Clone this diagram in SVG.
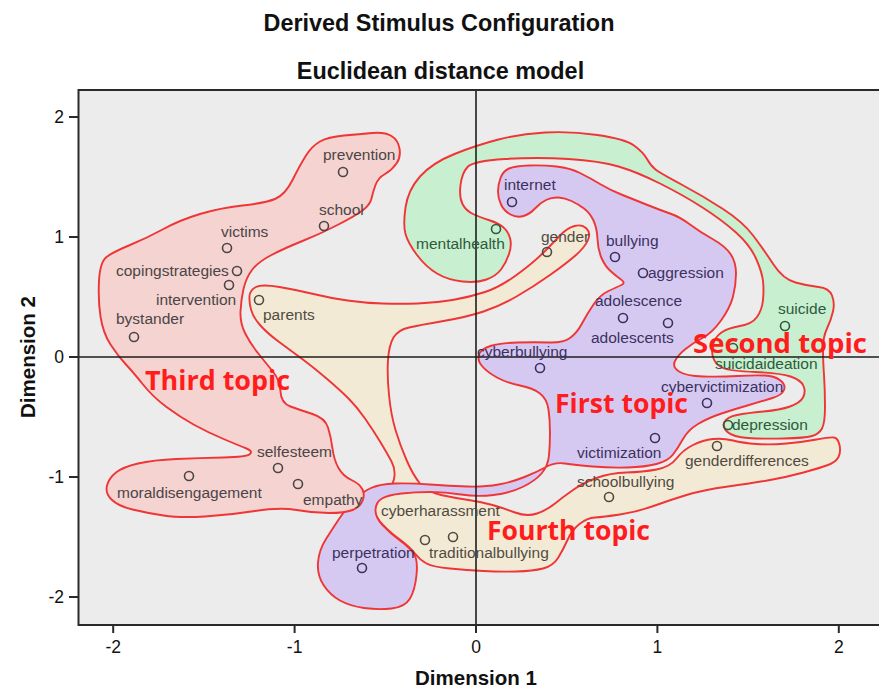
<svg xmlns="http://www.w3.org/2000/svg" width="879" height="689" viewBox="0 0 879 689">
<style>
.title{font-family:"Liberation Sans",Arial,sans-serif;font-weight:bold;font-size:23.4px;fill:#111;text-anchor:middle}
.axt{font-family:"Liberation Sans",Arial,sans-serif;font-weight:bold;font-size:20.5px;fill:#111;text-anchor:middle}
.tick{font-family:"Liberation Sans",Arial,sans-serif;font-size:17.5px;fill:#111}
.frame{fill:none;stroke:#2a2a2a;stroke-width:2}
.zero{stroke:#1e1e1e;stroke-width:1.6}
.tk{stroke:#2a2a2a;stroke-width:2}
.reg{stroke:#ef3535;stroke-width:1.9;stroke-linejoin:round}
.node text{font-family:"Liberation Sans",Arial,sans-serif;font-size:15.5px;fill:#4b4545}
.node circle{fill:none;stroke:#4b4545;stroke-width:1.6}
.pu text{fill:#3b3160}.pu circle{stroke:#3b3160}
.gr text{fill:#2f5a3c}.gr circle{stroke:#2f5a3c}
.be text{fill:#514a40}.be circle{stroke:#514a40}
.topic{font-family:"Open Sans","Liberation Sans",sans-serif;font-weight:bold;font-size:26px;fill:#ff1c1c}
</style>
<rect width="879" height="689" fill="#ffffff"/>
<text class="title" x="439" y="31">Derived Stimulus Configuration</text>
<text class="title" x="440.5" y="79">Euclidean distance model</text>
<rect x="78.5" y="90" width="820" height="535" fill="#ececec"/>

<g id="regions">
<path id="region-fourth" class="reg" fill="#f3ead6" d="M249.5 296 Q250 290 256 287 Q262 284 279.5 287 Q297 290 313.5 294 Q330 298 347.5 300.5 Q365 303 382.5 303.5 Q400 304 417.5 303.5 Q435 303 452.5 300 Q470 297 485 292 Q500 287 516.5 275 Q533 263 543 253 Q553 243 560 235.5 Q567 228 574.5 226 Q582 224 586.5 228.5 Q591 233 588 240 Q585 247 576 255 Q567 263 550 275 Q533 287 516.5 296.5 Q500 306 483.5 311.5 Q467 317 443.5 321 Q420 325 409 327.5 Q398 330 393.5 337.5 Q389 345 388 360 Q387 375 389 395 Q391 415 395.5 430 Q400 445 406.5 460 Q413 475 420 483.5 Q427 492 441 495 Q455 498 468.5 500 Q482 502 492.5 505 Q503 508 515 512.5 Q527 517 537 513.5 Q547 510 555 503.5 Q563 497 573 490 Q583 483 596.5 478 Q610 473 626.5 472.5 Q643 472 656.5 469.5 Q670 467 676.5 458.5 Q683 450 693 445 Q703 440 713 439 Q723 438 733 440.5 Q743 443 756.5 444 Q770 445 786.5 443.5 Q803 442 816.5 439.5 Q830 437 834 437.5 Q838 438 839.5 445 Q841 452 838.5 457 Q836 462 828 465 Q820 468 803.5 472.5 Q787 477 770 480 Q753 483 728 486.5 Q703 490 686.5 495 Q670 500 653.5 506 Q637 512 620 514.5 Q603 517 595 517.5 Q587 518 579.5 524 Q572 530 567.5 540 Q563 550 558 558 Q553 566 543 568.5 Q533 571 516.5 571.5 Q500 572 483.5 571 Q467 570 450 568.5 Q433 567 426.5 563.5 Q420 560 415 553.5 Q410 547 398.5 538.5 Q387 530 380 521.5 Q373 513 375 505 Q377 497 384.5 492.5 Q392 488 394 479 Q396 470 391.5 461.5 Q387 453 380 441.5 Q373 430 365 418.5 Q357 407 348.5 398.5 Q340 390 326.5 378.5 Q313 367 301.5 358.5 Q290 350 278.5 341.5 Q267 333 260 325 Q253 317 251 309.5 Q249 302 249.5 296 Z"/>
<path id="region-first" class="reg" fill="#d6c9f1" d="M498 191.5 Q498 185 500.5 178 Q503 171 509 168.5 Q515 166 529 165.5 Q543 165 556.5 166.5 Q570 168 580 173 Q590 178 600 184 Q610 190 622.5 195 Q635 200 647.5 205 Q660 210 670 213.5 Q680 217 690 224.5 Q700 232 712.5 239 Q725 246 730.5 254 Q736 262 736 273.5 Q736 285 733 296.5 Q730 308 721 320.5 Q712 333 702.5 338 Q693 343 685.5 349 Q678 355 675 361 Q672 367 679 371.5 Q686 376 703 376.5 Q720 377 737.5 376 Q755 375 765 375.5 Q775 376 780.5 380.5 Q786 385 784 390 Q782 395 772.5 398 Q763 401 749 405 Q735 409 721.5 413.5 Q708 418 698 424 Q688 430 683 439 Q678 448 673 454.5 Q668 461 656.5 464 Q645 467 627.5 467.5 Q610 468 592.5 466.5 Q575 465 565 463.5 Q555 462 546 467 Q537 472 524.5 477 Q512 482 498.5 484.5 Q485 487 467.5 486.5 Q450 486 430 484.5 Q410 483 395 483.5 Q380 484 371 488 Q362 492 353.5 501 Q345 510 339 519 Q333 528 326 539 Q319 550 318 562.5 Q317 575 323.5 585 Q330 595 340 600.5 Q350 606 364 608 Q378 610 391.5 608.5 Q405 607 410 598.5 Q415 590 416.5 575 Q418 560 414 554 Q410 548 400 540.5 Q390 533 382.5 525 Q375 517 375.5 509.5 Q376 502 382 498.5 Q388 495 401.5 493.5 Q415 492 430 492 Q445 492 461 494.5 Q477 497 493.5 495 Q510 493 522.5 487 Q535 481 541.5 473.5 Q548 466 549 455.5 Q550 445 550 432.5 Q550 420 548.5 409.5 Q547 399 540 393.5 Q533 388 520 385.5 Q507 383 497 377.5 Q487 372 482 366 Q477 360 479 354.5 Q481 349 490.5 346 Q500 343 517.5 342.5 Q535 342 549 342.5 Q563 343 570 338 Q577 333 582 323.5 Q587 314 593.5 304.5 Q600 295 608.5 291 Q617 287 621.5 285 Q626 283 621 279.5 Q616 276 610.5 271 Q605 266 601.5 258 Q598 250 597.5 239 Q597 228 593.5 220.5 Q590 213 584 208.5 Q578 204 571.5 201 Q565 198 558.5 197.5 Q552 197 546 200 Q540 203 535 208.5 Q530 214 523.5 216 Q517 218 510.5 214.5 Q504 211 501 204.5 Q498 198 498 191.5 Z"/>
<path id="region-second" class="reg" fill="#c7efd0" d="M405.5 234 Q403 225 405.5 207.5 Q408 190 420 176.5 Q432 163 454.5 154 Q477 145 498.5 139.5 Q520 134 545 132.5 Q570 131 597.5 135 Q625 139 634 145.5 Q643 152 647 159 Q651 166 655.5 169.5 Q660 173 681.5 184.5 Q703 196 723 209 Q743 222 753.5 236 Q764 250 773.5 264.5 Q783 279 795.5 282.5 Q808 286 818.5 287 Q829 288 832 295.5 Q835 303 833 311.5 Q831 320 827 328.5 Q823 337 823 348.5 Q823 360 824 375 Q825 390 825 406.5 Q825 423 822 428.5 Q819 434 812 436 Q805 438 784 438.5 Q763 439 748 438 Q733 437 727.5 432 Q722 427 724.5 422 Q727 417 737 415 Q747 413 763.5 411.5 Q780 410 790 406.5 Q800 403 803 397.5 Q806 392 803.5 386 Q801 380 790.5 376.5 Q780 373 755 372 Q730 371 723 368 Q716 365 713.5 358.5 Q711 352 713 344.5 Q715 337 721.5 332.5 Q728 328 740 326 Q752 324 757 317 Q762 310 763 300 Q764 290 763 281 Q762 272 756 258.5 Q750 245 736 232.5 Q722 220 702.5 207.5 Q683 195 660 183.5 Q637 172 618.5 166.5 Q600 161 568.5 159 Q537 157 505 159 Q473 161 467.5 167 Q462 173 460.5 185 Q459 197 462.5 204 Q466 211 474 214.5 Q482 218 490 220.5 Q498 223 503 227 Q508 231 510 238 Q512 245 509 254 Q506 263 501 269.5 Q496 276 486.5 279.5 Q477 283 462.5 281.5 Q448 280 437 273.5 Q426 267 417 255 Q408 243 405.5 234 Z"/>
<path id="region-third" class="reg" fill="#f4d3d1" d="M99 281 Q100 262 106.5 257 Q113 252 130 245 Q147 238 163.5 229 Q180 220 200 214 Q220 208 242.5 205.5 Q265 203 275 199 Q285 195 292.5 180 Q300 165 306 155.5 Q312 146 320 141.5 Q328 137 344 135.5 Q360 134 372.5 133 Q385 132 391.5 136 Q398 140 399.5 148.5 Q401 157 396.5 163.5 Q392 170 385 174 Q378 178 375.5 185 Q373 192 371.5 198.5 Q370 205 362.5 210.5 Q355 216 337.5 225 Q320 234 302.5 241 Q285 248 271.5 255 Q258 262 252 270 Q246 278 243.5 289 Q241 300 240.5 311.5 Q240 323 245 333 Q250 343 257.5 352.5 Q265 362 272.5 371 Q280 380 280.5 391.5 Q281 403 290.5 406.5 Q300 410 312.5 414 Q325 418 328 427.5 Q331 437 332.5 448.5 Q334 460 338.5 468 Q343 476 351.5 480 Q360 484 362.5 489.5 Q365 495 362.5 501 Q360 507 352.5 510 Q345 513 329 513 Q313 513 296.5 510 Q280 507 255 511 Q230 515 205 516.5 Q180 518 163.5 515.5 Q147 513 132.5 509.5 Q118 506 111.5 499.5 Q105 493 107 485.5 Q109 478 116 472.5 Q123 467 138 463.5 Q153 460 176.5 459 Q200 458 223.5 457.5 Q247 457 250 454 Q253 451 246.5 448.5 Q240 446 223.5 439 Q207 432 193.5 424.5 Q180 417 166.5 407 Q153 397 143 384.5 Q133 372 125.5 364 Q118 356 110.5 344.5 Q103 333 100.5 316.5 Q98 300 99 281 Z"/>
</g>

<g id="axes">
<line class="zero" x1="476" y1="90" x2="476" y2="625"/>
<line class="zero" x1="78.5" y1="357" x2="879" y2="357"/>
<path class="frame" d="M879 90 H78.5 V625 H879"/>
<path class="tk" d="M113.2 625 V633 M294.6 625 V633 M476 625 V633 M657.4 625 V633 M838.8 625 V633 M69 117 H78.5 M69 237 H78.5 M69 357 H78.5 M69 477 H78.5 M69 597 H78.5"/>
<g class="tick" text-anchor="middle">
<text x="113.2" y="653">-2</text>
<text x="294.6" y="653">-1</text>
<text x="476" y="653">0</text>
<text x="657.4" y="653">1</text>
<text x="838.8" y="653">2</text>
</g>
<g class="tick" text-anchor="end">
<text x="64" y="123">2</text>
<text x="64" y="243">1</text>
<text x="64" y="363">0</text>
<text x="64" y="483">-1</text>
<text x="64" y="603">-2</text>
</g>
<text class="axt" x="476" y="685">Dimension 1</text>
<text class="axt" transform="translate(35,357) rotate(-90)" x="0" y="0">Dimension 2</text>
</g>

<g id="nodes">
<g id="n-prevention" class="node"><circle cx="343" cy="172" r="4.5"/><text x="323" y="160">prevention</text></g>
<g id="n-school" class="node"><circle cx="324" cy="226" r="4.5"/><text x="319" y="215">school</text></g>
<g id="n-victims" class="node"><circle cx="227" cy="248" r="4.5"/><text x="221" y="237">victims</text></g>
<g id="n-copingstrategies" class="node"><circle cx="237" cy="271" r="4.5"/><text x="116" y="276">copingstrategies</text></g>
<g id="n-intervention" class="node"><circle cx="229" cy="285" r="4.5"/><text x="156" y="305">intervention</text></g>
<g id="n-bystander" class="node"><circle cx="134" cy="337" r="4.5"/><text x="116" y="324">bystander</text></g>
<g id="n-parents" class="node be"><circle cx="259" cy="300" r="4.5"/><text x="263" y="320">parents</text></g>
<g id="n-mentalhealth" class="node gr"><circle cx="496" cy="229" r="4.5"/><text x="416" y="249">mentalhealth</text></g>
<g id="n-internet" class="node pu"><circle cx="512" cy="202" r="4.5"/><text x="504" y="190">internet</text></g>
<g id="n-gender" class="node be"><circle cx="547" cy="252" r="4.5"/><text x="541" y="242">gender</text></g>
<g id="n-bullying" class="node pu"><circle cx="615" cy="257" r="4.5"/><text x="606" y="246">bullying</text></g>
<g id="n-aggression" class="node pu"><circle cx="643" cy="273" r="4.5"/><text x="648" y="278">aggression</text></g>
<g id="n-adolescence" class="node pu"><circle cx="623" cy="318" r="4.5"/><text x="595" y="306">adolescence</text></g>
<g id="n-adolescents" class="node pu"><circle cx="668" cy="323" r="4.5"/><text x="591" y="343">adolescents</text></g>
<g id="n-suicide" class="node gr"><circle cx="785" cy="326" r="4.5"/><text x="778" y="314">suicide</text></g>
<g id="n-suicidaideation" class="node gr"><circle cx="733" cy="348" r="4.5"/><text x="715" y="369">suicidaideation</text></g>
<g id="n-cyberbullying" class="node pu"><circle cx="540" cy="368" r="4.5"/><text x="477" y="357">cyberbullying</text></g>
<g id="n-cybervictimization" class="node pu"><circle cx="707" cy="403" r="4.5"/><text x="661" y="392">cybervictimization</text></g>
<g id="n-depression" class="node gr"><circle cx="728" cy="425" r="4.5"/><text x="732" y="430">depression</text></g>
<g id="n-victimization" class="node pu"><circle cx="655" cy="438" r="4.5"/><text x="577" y="458">victimization</text></g>
<g id="n-genderdifferences" class="node be"><circle cx="717" cy="446" r="4.5"/><text x="685" y="466">genderdifferences</text></g>
<g id="n-schoolbullying" class="node be"><circle cx="609" cy="497" r="4.5"/><text x="577" y="487">schoolbullying</text></g>
<g id="n-cyberharassment" class="node be"><circle cx="425" cy="540" r="4.5"/><text x="381" y="516">cyberharassment</text></g>
<g id="n-traditionalbullying" class="node be"><circle cx="453" cy="537" r="4.5"/><text x="429" y="558">traditionalbullying</text></g>
<g id="n-perpetration" class="node pu"><circle cx="362" cy="568" r="4.5"/><text x="332" y="558">perpetration</text></g>
<g id="n-selfesteem" class="node"><circle cx="278" cy="468" r="4.5"/><text x="257" y="457">selfesteem</text></g>
<g id="n-empathy" class="node"><circle cx="298" cy="484" r="4.5"/><text x="303" y="505">empathy</text></g>
<g id="n-moraldisengagement" class="node"><circle cx="189" cy="476" r="4.5"/><text x="117" y="498">moraldisengagement</text></g>
</g>

<g id="topics">
<text class="topic" x="145" y="390" textLength="145" lengthAdjust="spacingAndGlyphs">Third topic</text>
<text class="topic" x="555" y="413" textLength="133" lengthAdjust="spacingAndGlyphs">First topic</text>
<text class="topic" x="693" y="353" textLength="174" lengthAdjust="spacingAndGlyphs">Second topic</text>
<text class="topic" x="487" y="540" textLength="163" lengthAdjust="spacingAndGlyphs">Fourth topic</text>
</g>
</svg>
